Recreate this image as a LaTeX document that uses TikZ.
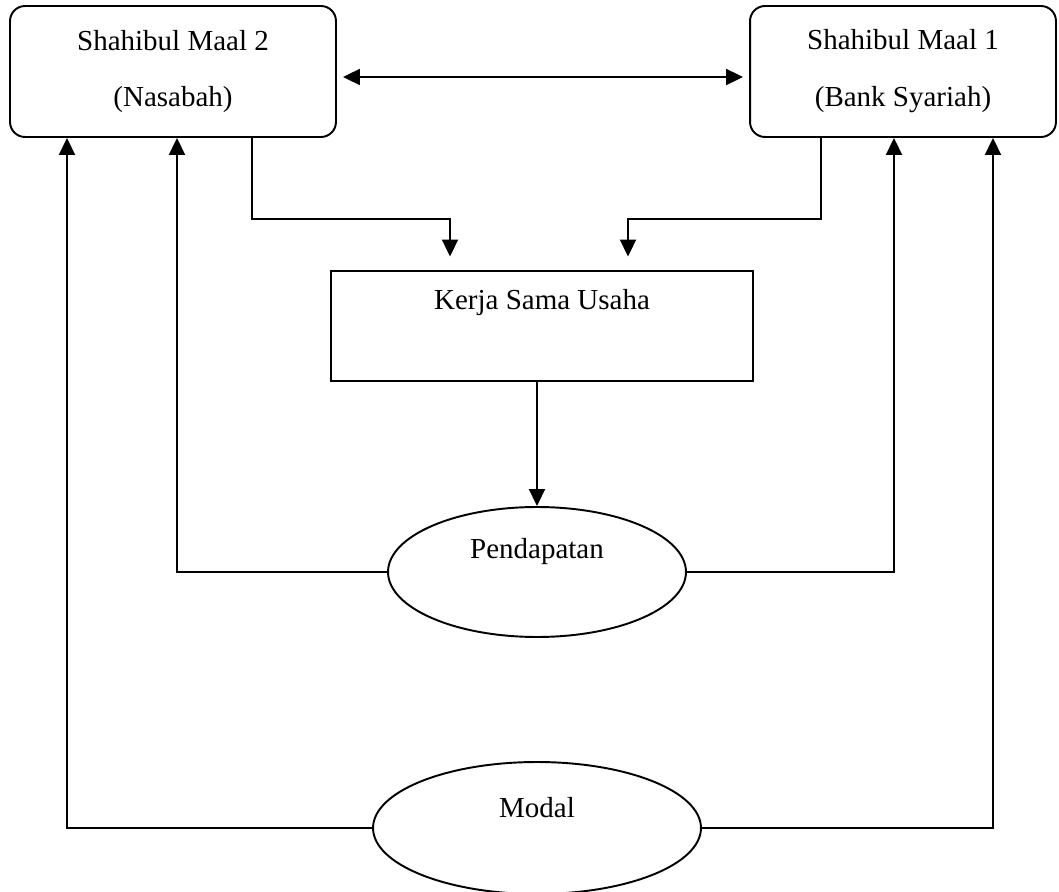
\documentclass[tikz,border=0pt]{standalone}
\usepackage{fontspec}
\setmainfont{Liberation Serif}
\usetikzlibrary{arrows.meta,shapes.geometric}

\begin{document}
\begin{tikzpicture}[x=0.02cm,y=-0.02cm]
    \fontsize{16.5}{32.4}\selectfont  % ukuran huruf
    \tikzstyle{format}=[rectangle,draw,line width=1.1pt,align=center,inner sep=0pt]  % kotak biasa
    \tikzstyle{kotak}=[format,rounded corners=0.3cm]  % kotak sudut bulat
    \tikzstyle{elips}=[ellipse,draw,line width=1.1pt,inner sep=0pt]
    \tikzstyle{panah}=[line width=1.1pt,-{Triangle[width=0.32cm,length=0.34cm]}]
    \tikzstyle{point}=[coordinate]  % titik belok garis

    \useasboundingbox (0,0) rectangle (1059,892);

    % node
    \node[kotak,minimum width=6.52cm,minimum height=2.62cm](sm2) at (173,71.5){Shahibul Maal 2\\(Nasabah)};
    \node[kotak,minimum width=6.12cm,minimum height=2.62cm](sm1) at (903,71.5){Shahibul Maal 1\\(Bank Syariah)};
    \node[format,minimum width=8.44cm,minimum height=2.2cm,
          label={[yshift=0.46cm]center:Kerja Sama Usaha}](ksu) at (542,326){};
    \node[elips,minimum width=5.96cm,minimum height=2.6cm,
          label={[yshift=0.4cm]center:Pendapatan}](pend) at (537,572){};
    \node[elips,minimum width=6.56cm,minimum height=2.64cm,
          label={[yshift=0.4cm]center:Modal}](modal) at (537,828){};

    % titik bantu
    \node[point](b2) at (252,219){};
    \node[point](t2) at (450,0){};
    \node[point](b1) at (821,219){};
    \node[point](t1) at (628,0){};
    \node[point](x2) at (177,0){};
    \node[point](x1) at (894,0){};
    \node[point](y2) at (67,0){};
    \node[point](y1) at (993,0){};

    % garis
    \draw[line width=1.1pt,{Triangle[width=0.32cm,length=0.34cm]}-{Triangle[width=0.32cm,length=0.34cm]},
          shorten <=0.12cm,shorten >=0.12cm]([yshift=-0.11cm]sm2.east)--([yshift=-0.11cm]sm1.west);
    \draw[panah,shorten >=0.27cm](sm2.south -| b2) |- (t2 |- b2) -- (ksu.north -| t2);
    \draw[panah,shorten >=0.27cm](sm1.south -| b1) |- (t1 |- b1) -- (ksu.north -| t1);
    \draw[panah](ksu.south -| pend.north)--(pend.north);
    \draw[panah](pend.west) -| (sm2.south -| x2);
    \draw[panah](pend.east) -| (sm1.south -| x1);
    \draw[panah](modal.west) -| (sm2.south -| y2);
    \draw[panah](modal.east) -| (sm1.south -| y1);
\end{tikzpicture}
\end{document}
